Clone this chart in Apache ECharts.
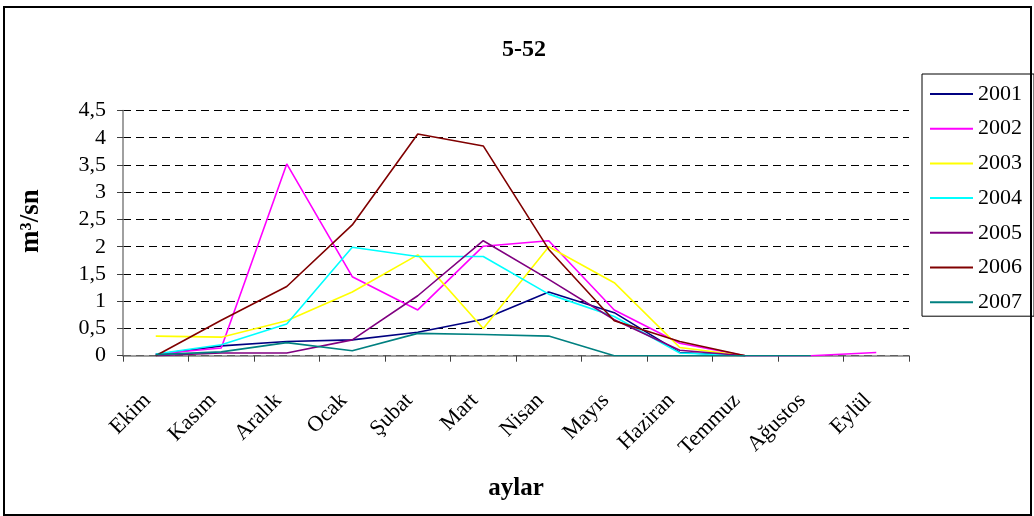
<!DOCTYPE html>
<html>
<head>
<meta charset="utf-8">
<script src="https://cdn.jsdelivr.net/npm/echarts@6/dist/echarts.min.js"></script>
<style>
  html, body { margin: 0; padding: 0; background: #fff; }
  #chart { width: 1034px; height: 516px; }
</style>
</head>
<body>
<div id="chart"></div>
<script>
// aylar (months)
const months = ["Ekim", "Kasım", "Aralık", "Ocak", "Şubat", "Mart", "Nisan", "Mayıs", "Haziran", "Temmuz", "Ağustos", "Eylül"];

// debi (m3/sn) per year
const y2001 = [0.02, 0.18, 0.26, 0.29, 0.43, 0.67, 1.17, 0.79, 0.06, 0, null, null];
const y2002 = [0.03, 0.14, 3.52, 1.45, 0.84, 2.01, 2.11, 0.84, 0.23, 0, 0, 0.06];
const y2003 = [0.36, 0.34, 0.64, 1.17, 1.85, 0.50, 2.00, 1.34, 0.15, 0, null, null];
const y2004 = [0.03, 0.20, 0.58, 1.99, 1.82, 1.82, 1.13, 0.72, 0.05, 0, null, null];
const y2005 = [0.00, 0.05, 0.05, 0.29, 1.10, 2.11, 1.40, 0.66, 0.10, 0, null, null];
const y2006 = [0.00, 0.65, 1.27, 2.40, 4.07, 3.85, 1.95, 0.64, 0.26, 0, null, null];
const y2007 = [0.02, 0.07, 0.24, 0.09, 0.41, 0.39, 0.36, 0, 0, 0, 0, null];

const yearNames = ["2001", "2002", "2003", "2004", "2005", "2006", "2007"];
const yearData = [y2001, y2002, y2003, y2004, y2005, y2006, y2007];
const yearColors = ["#000080", "#FF00FF", "#FFFF00", "#00FFFF", "#800080", "#800000", "#008080"];

const chart = echarts.init(document.getElementById("chart"));
const serif = "'Liberation Serif', 'DejaVu Serif', serif";

chart.setOption({
    animation: false,
    backgroundColor: "#fff",
    textStyle: { fontFamily: serif },
    title: {
        text: "5-52",
        left: 519,
        top: 33,
        textAlign: "center",
        textStyle: { fontFamily: serif, fontWeight: "bold", fontSize: 24, color: "#000" }
    },
    graphic: [{
        type: "rect",
        shape: { x: 4, y: 7, width: 1027, height: 508 },
        style: { fill: null, stroke: "#000", lineWidth: 2 },
        silent: true
    }],
    legend: {
        orient: "vertical",
        left: 922,
        top: 74,
        padding: [9, 12, 3, 8],
        borderColor: "#000",
        borderWidth: 1,
        icon: "rect",
        itemWidth: 43,
        itemHeight: 2,
        itemGap: 12.7,
        textStyle: { fontFamily: serif, fontSize: 22, color: "#000", lineHeight: 22 },
        data: yearNames
    },
    grid: { left: 123, right: 125, top: 110.5, bottom: 160.3 },
    xAxis: {
        type: "category",
        data: months,
        boundaryGap: true,
        name: "aylar",
        nameLocation: "middle",
        nameGap: 120,
        nameTextStyle: { fontFamily: serif, fontWeight: "bold", fontSize: 25, color: "#000" },
        axisLine: { lineStyle: { color: "#808080", width: 1.5 } },
        axisTick: { show: true, length: 6, lineStyle: { color: "#404040" } },
        axisLabel: {
            interval: 0, rotate: 45, margin: 33, padding: [0, 12, 0, 0],
            fontSize: 22, color: "#000", fontFamily: serif
        }
    },
    yAxis: {
        type: "value",
        min: 0,
        max: 4.5,
        interval: 0.5,
        name: "m³/sn",
        nameLocation: "middle",
        nameGap: 78,
        nameTextStyle: { fontFamily: serif, fontWeight: "bold", fontSize: 27, color: "#000", padding: [0, 0, 0, 24] },
        axisLine: { show: true, lineStyle: { color: "#808080", width: 1.5 } },
        axisTick: { show: true, length: 6, lineStyle: { color: "#404040" } },
        axisLabel: {
            fontSize: 22, color: "#000", margin: 17, fontFamily: serif,
            formatter: v => String(v).replace(".", ",")
        },
        splitLine: { lineStyle: { color: "#000", type: [8, 5], width: 1 } }
    },
    series: yearNames.map((name, i) => ({
        name: name,
        type: "line",
        data: yearData[i],
        symbol: "none",
        connectNulls: false,
        color: yearColors[i],
        lineStyle: { color: yearColors[i], width: 1.6 }
    }))
});
</script>
</body>
</html>
